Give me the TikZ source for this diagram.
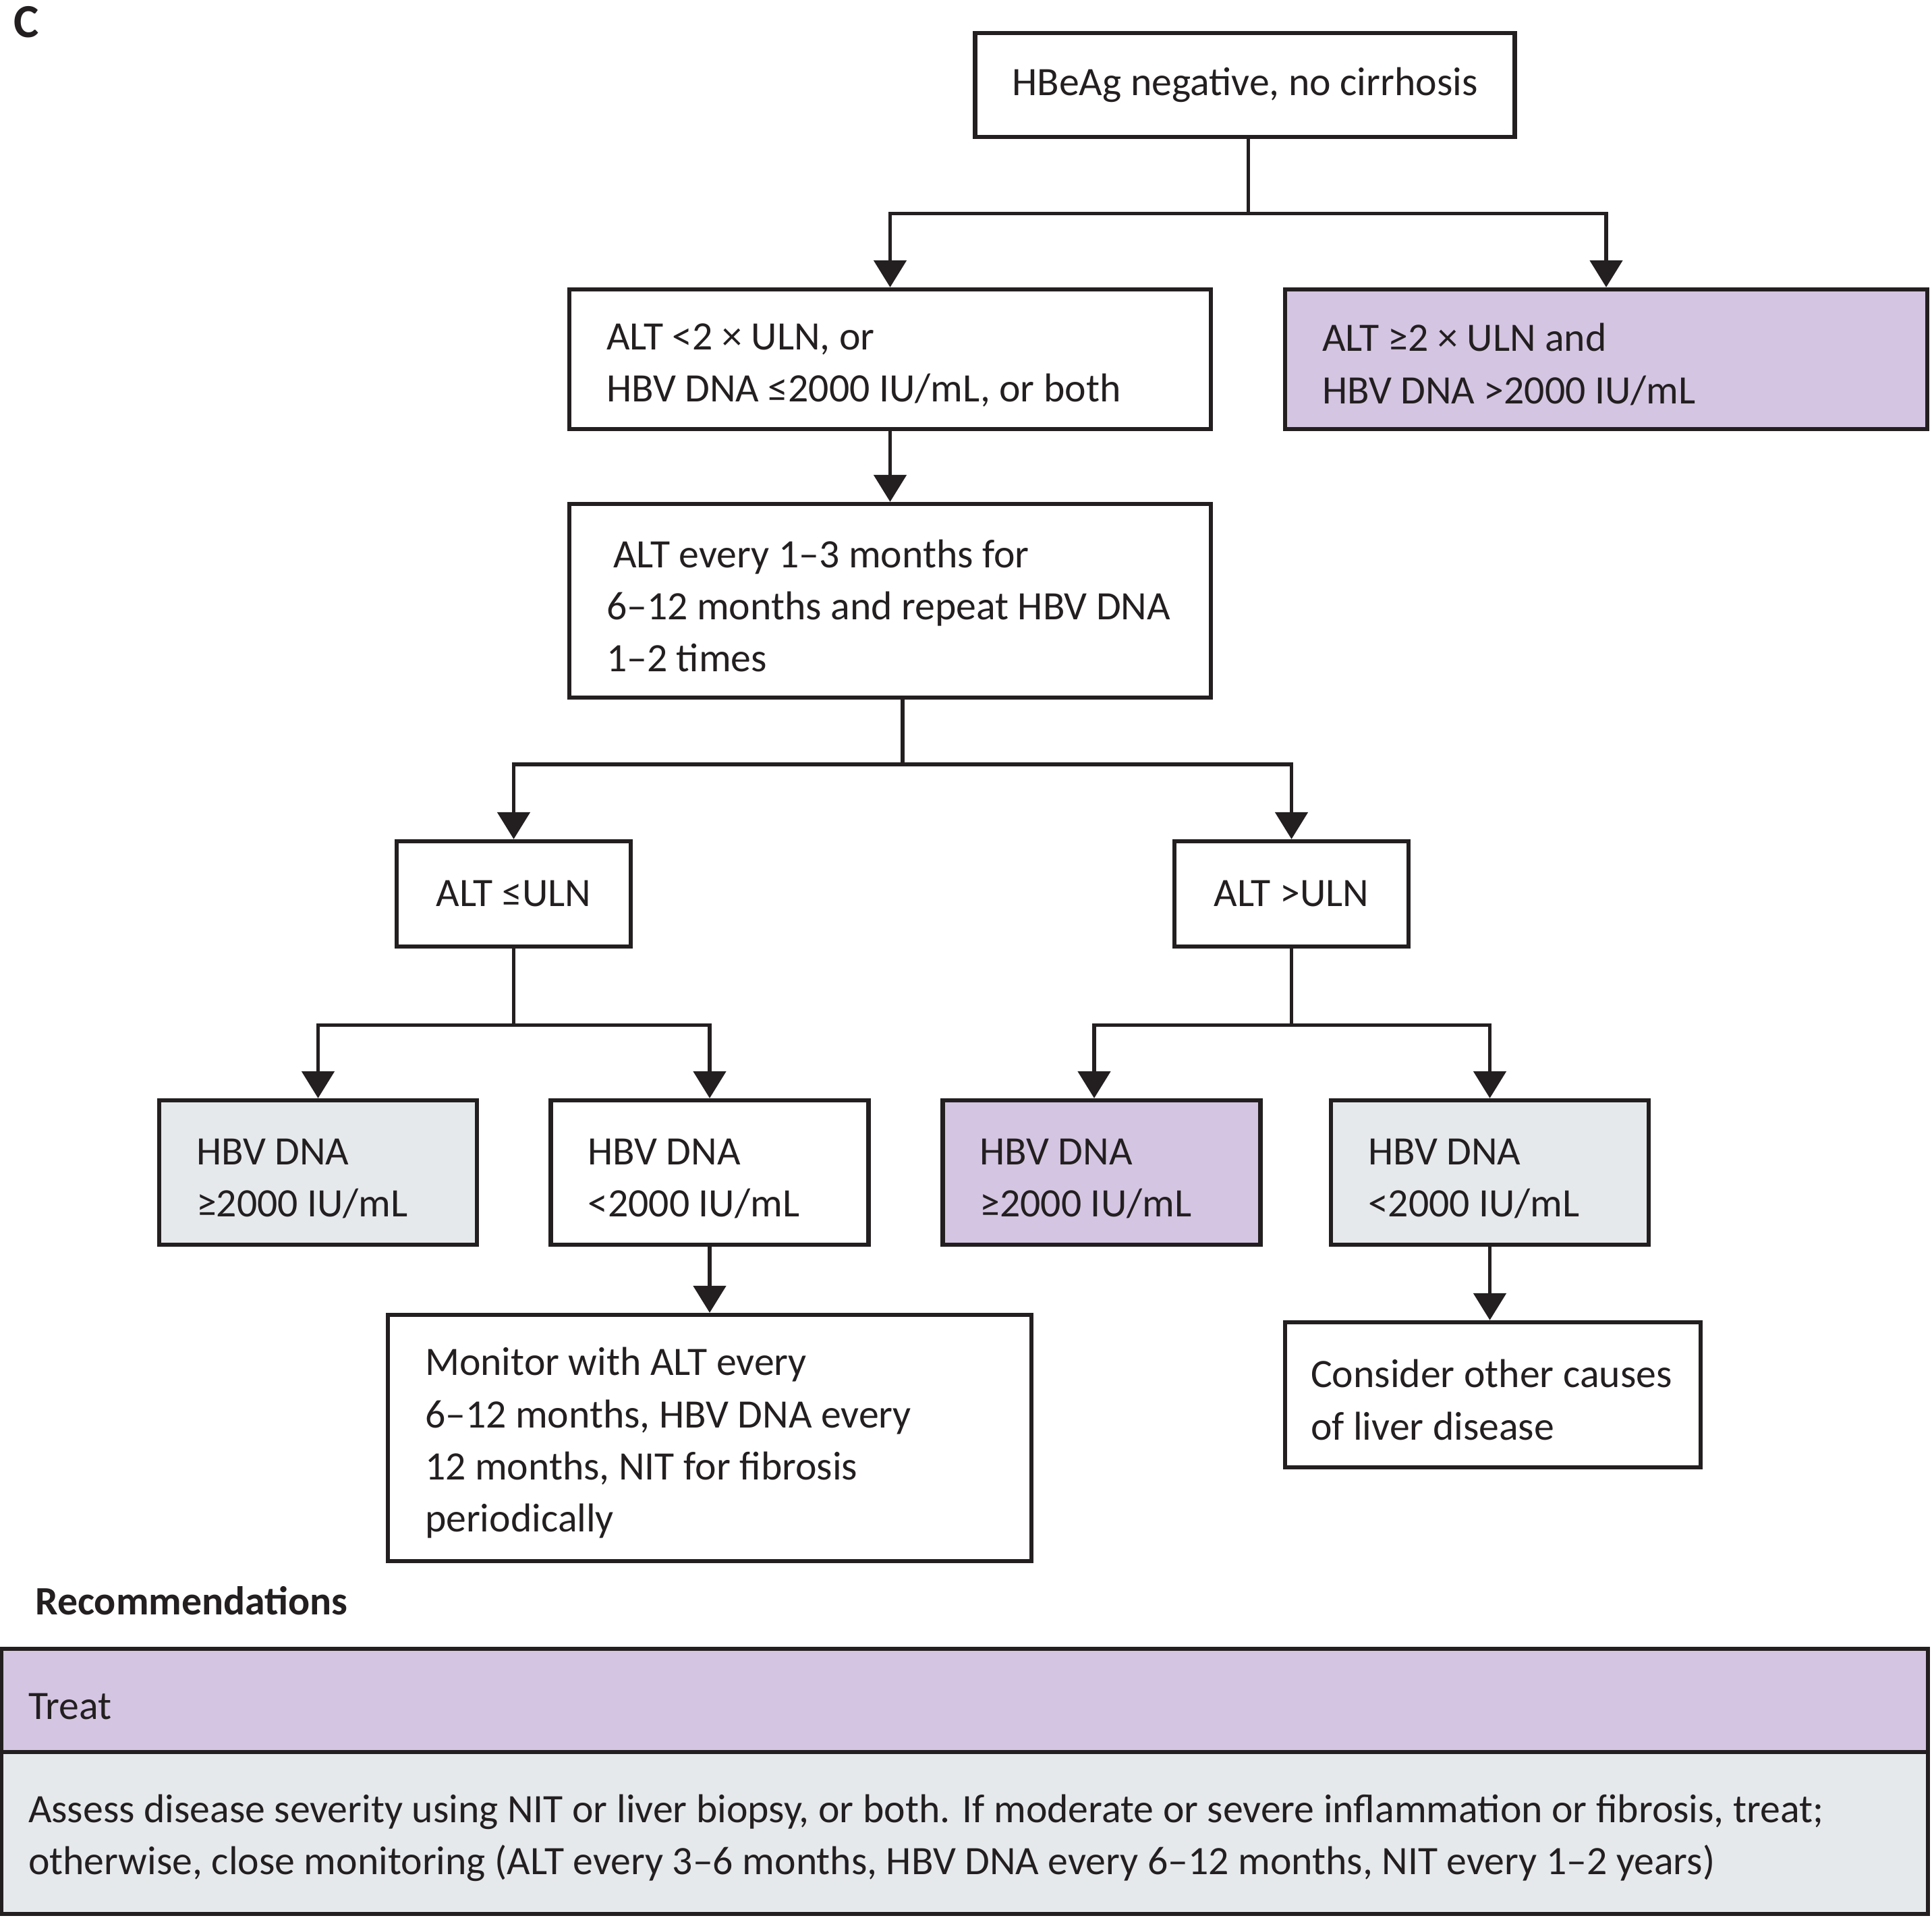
\documentclass[tikz,border=0pt]{standalone}
\usepackage{fontspec}
\setmainfont{Carlito}
\usepackage{tikz}
\usetikzlibrary{arrows.meta,calc}
\definecolor{treatpurple}{RGB}{212,197,226}
\definecolor{monitorgrey}{RGB}{230,233,236}
\definecolor{inkblack}{RGB}{35,31,32}

\begin{document}
\begin{tikzpicture}[
  font=\fontsize{17}{22}\selectfont,
  box/.style={rectangle, draw=inkblack, line width=1.8pt, inner xsep=0.55cm, inner ysep=0pt, align=center, text=inkblack},
  textbox/.style={box, align=flush left, execute at begin node={\spaceskip=0pt\xspaceskip=0pt\rule{0pt}{16pt}}},
  link/.style={draw=inkblack, line width=1.5pt},
  arr/.style={link, -{Triangle[length=0.4cm,width=0.48cm]}}
]
\useasboundingbox (0,0) rectangle (28.64,-28.42);

% Panel letter
\node[anchor=base west, font=\fontsize{20}{24}\selectfont\bfseries, text=inkblack] (panel) at (0.08,-0.55) {C};

% Flow diagram
\node[box, minimum width=7.83cm, minimum height=1.54cm] (start) at (18.455,-1.26) {HBeAg negative, no cirrhosis};
\node[textbox, text width=8.41cm, minimum height=2.07cm] (altlow) at (13.195,-5.325) {ALT <2 × ULN, or\\HBV DNA ≤2000 IU/mL, or both};
\node[textbox, fill=treatpurple, text width=8.42cm, minimum height=2.07cm] (althigh) at (23.81,-5.325) {ALT ≥2 × ULN and\\HBV DNA >2000 IU/mL};
\node[textbox, text width=8.41cm, minimum height=2.87cm] (repeat) at (13.195,-8.905) {\hspace{0.1cm}ALT every 1–3 months for\\6–12 months and repeat HBV DNA\\1–2 times};
\node[box, minimum width=3.47cm, minimum height=1.56cm] (altle) at (7.615,-13.25) {ALT ≤ULN};
\node[box, minimum width=3.47cm, minimum height=1.56cm] (altgt) at (19.145,-13.25) {ALT >ULN};
\node[textbox, fill=monitorgrey, text width=3.61cm, minimum height=2.14cm] (lehigh) at (4.715,-17.38) {HBV DNA\\≥2000 IU/mL};
\node[textbox, text width=3.61cm, minimum height=2.14cm] (lelow) at (10.52,-17.38) {HBV DNA\\<2000 IU/mL};
\node[textbox, fill=treatpurple, text width=3.61cm, minimum height=2.14cm] (gthigh) at (16.33,-17.38) {HBV DNA\\≥2000 IU/mL};
\node[textbox, fill=monitorgrey, text width=3.61cm, minimum height=2.14cm] (gtlow) at (22.085,-17.38) {HBV DNA\\<2000 IU/mL};
\node[textbox, text width=8.44cm, minimum height=3.65cm] (monitor) at (10.52,-21.315) {Monitor with ALT every\\6–12 months, HBV DNA every\\12 months, NIT for fibrosis\\periodically};
\node[textbox, inner xsep=0.38cm, text width=5.40cm, minimum height=2.15cm] (other) at (22.13,-20.675) {Consider other causes\\of liver disease};

% split points
\coordinate (split1) at ($(altlow.north)!0.5!(althigh.north) + (0,1.09)$);
\coordinate (split2) at ($(altle.north)!0.5!(altgt.north) + (0,1.11)$);
\coordinate (split3) at ($(altle.south) + (0,-1.13)$);
\coordinate (split4) at ($(altgt.south) + (0,-1.13)$);

\draw[link] (start.south -| split1) -- (split1);
\draw[arr] (split1) -| (altlow.north);
\draw[arr] (split1) -| (althigh.north);
\draw[arr] (altlow) -- (repeat);
\draw[link] (repeat.south -| split2) -- (split2);
\draw[arr] (split2) -| (altle.north);
\draw[arr] (split2) -| (altgt.north);
\draw[link] (altle.south) -- (split3);
\draw[arr] (split3) -| (lehigh.north);
\draw[arr] (split3) -| (lelow.north);
\draw[link] (altgt.south) -- (split4);
\draw[arr] (split4) -| ($(gthigh.north) + (-0.11,0)$);
\draw[arr] (split4) -| (gtlow.north);
\draw[arr] (lelow) -- (monitor);
\draw[arr] (gtlow.south) -- (gtlow.south |- other.north);

% Recommendations
\node[anchor=base west, font=\fontsize{17}{22}\selectfont\bfseries, text=inkblack] (recs) at (0.40,-23.93) {Recommendations};
\node[textbox, fill=treatpurple, text width=27.76cm, inner xsep=0.4cm, minimum height=1.53cm] (treat) at (14.30,-25.205) {Treat};
\node[textbox, fill=monitorgrey, text width=27.76cm, inner xsep=0.4cm, minimum height=2.40cm] (assess) at (14.30,-27.17) {Assess disease severity using NIT or liver biopsy, or both. If moderate or severe inflammation or fibrosis, treat;\\otherwise, close monitoring (ALT every 3–6 months, HBV DNA every 6–12 months, NIT every 1–2 years)};
\end{tikzpicture}
\end{document}
